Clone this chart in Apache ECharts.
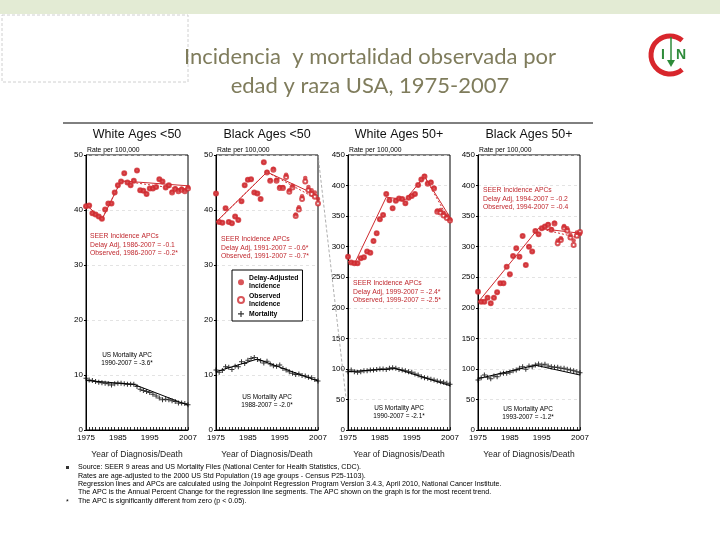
<!DOCTYPE html>
<html>
<head>
<meta charset="utf-8">
<script src="https://cdn.jsdelivr.net/npm/echarts@6/dist/echarts.min.js"></script>
<style>html,body{margin:0;padding:0;background:#fff}#c{width:720px;height:540px}</style>
</head>
<body>
<div id="c"></div>
<script>
// ---------- DATA ----------
const years = [1975,1976,1977,1978,1979,1980,1981,1982,1983,1984,1985,1986,1987,1988,1989,1990,1991,1992,1993,1994,1995,1996,1997,1998,1999,2000,2001,2002,2003,2004,2005,2006,2007];
const xTickLabels = [1975,1985,1995,2007];
const panelTitles = ['White Ages <50','Black Ages <50','White Ages 50+','Black Ages 50+'];

// White Ages <50
const w50DelayAdj = [40.7,40.8,39.4,39.2,38.8,38.4,40.1,41.2,41.2,43.2,44.5,45.2,46.7,45.0,44.5,45.3,47.2,43.6,43.5,42.9,43.9,43.9,44.2,45.6,45.2,44.1,44.5,43.3,43.9,43.6,43.9,43.6,44.2];
const w50Observed = [40.7,40.8,39.4,39.2,38.8,38.4,40.1,41.2,41.2,43.2,44.5,45.2,46.7,45.0,44.5,45.3,47.2,43.6,43.5,42.9,43.9,43.9,44.2,45.6,45.2,44.1,44.5,43.2,43.8,43.4,43.7,43.4,43.9];
const w50Mortality = [9.4,9.1,9.0,8.8,8.7,8.6,8.5,8.4,8.2,8.4,8.5,8.5,8.4,8.3,8.3,8.3,7.9,7.4,7.2,7.0,6.8,6.5,6.2,5.8,5.5,5.6,5.5,5.3,5.2,4.9,4.9,4.8,4.6];
const w50DelayFitYears = [1975,1980,1986,2007], w50DelayFit = [41.0,38.3,45.3,44.4];
const w50ObsFitYears = [1975,1980,1986,2007], w50ObsFit = [41.0,38.3,45.3,43.6];
const w50MortFitYears = [1975,1990,2007], w50MortFit = [9.0,8.3,4.5];

// Black Ages <50
const b50DelayAdj = [43.0,37.8,37.7,40.3,37.8,37.6,38.8,38.2,41.6,44.5,45.5,45.6,43.2,43.0,42.0,48.7,46.9,45.4,47.5,45.5,44.2,44.2,46.4,43.6,44.4,39.2,40.5,42.5,45.8,44.2,43.6,43.2,42.0];
const b50Observed = [43.0,37.8,37.7,40.3,37.8,37.6,38.8,38.2,41.6,44.5,45.5,45.6,43.2,43.0,42.0,48.7,46.8,45.3,47.3,45.3,44.0,44.0,46.0,43.3,44.1,38.9,40.1,42.0,45.2,43.6,42.9,42.4,41.2];
const b50Mortality = [10.9,10.5,10.8,11.5,11.4,11.0,11.6,11.5,12.4,12.1,12.7,13.0,13.2,12.8,12.6,12.2,12.5,12.0,11.7,11.6,11.8,11.2,10.9,10.6,10.3,10.1,10.2,9.9,9.8,9.6,9.5,9.2,8.9];
const b50DelayFitYears = [1975,1991,2007], b50DelayFit = [37.8,46.9,42.6];
const b50ObsFitYears = [1975,1991,2007], b50ObsFit = [37.8,46.9,41.9];
const b50MortFitYears = [1975,1988,2007], b50MortFit = [10.6,12.9,8.9];

// White Ages 50+
const wp50DelayAdj = [283.7,273.9,272.8,272.8,281.0,282.6,291.9,290.2,309.3,321.9,345.0,352.0,386.0,376.0,363.0,375.0,379.0,378.0,371.0,380.0,383.0,386.0,401.0,410.0,415.7,403.7,406.0,396.6,359.0,360.0,355.7,351.0,344.8];
const wp50Observed = [283.7,273.9,272.8,272.8,281.0,282.6,291.9,290.2,309.3,321.9,345.0,352.0,386.0,376.0,363.0,375.0,379.0,378.0,371.0,380.0,383.0,386.0,401.0,410.0,415.0,403.0,405.0,395.0,357.0,356.0,351.0,347.0,343.0];
const wp50Mortality = [95.5,98.0,95.5,94.4,95.5,97.0,97.0,98.0,98.0,99.0,99.8,99.8,99.0,101.0,102.0,101.0,99.0,98.0,97.0,95.5,94.4,91.6,90.0,87.3,85.6,84.5,83.0,81.8,80.2,79.1,78.0,76.4,74.7];
const wp50DelayFitYears = [1975,1977,1987,1993,1999,2007], wp50DelayFit = [276,272,381,377,415,348];
const wp50ObsFitYears = [1999,2007], wp50ObsFit = [415,341];
const wp50MortFitYears = [1975,1990,2007], wp50MortFit = [95.5,100.5,72.5];

// Black Ages 50+
const bp50DelayAdj = [226.4,210.0,210.0,216.6,207.3,216.6,225.3,240.0,240.0,267.3,254.8,284.8,297.3,283.7,317.5,270.0,300.0,291.9,325.7,320.2,330.0,332.8,336.6,328.4,339.3,310.0,313.7,334.0,330.0,319.0,310.0,323.0,320.8];
const bp50Observed = [226.4,210.0,210.0,216.6,207.3,216.6,225.3,240.0,240.0,267.3,254.8,284.8,297.3,283.7,317.5,270.0,300.0,291.9,325.7,320.2,330.0,332.8,336.0,327.5,338.0,305.5,311.0,331.0,326.0,315.0,302.7,318.0,324.0];
const bp50Mortality = [81.8,85.6,90.0,86.2,84.0,88.4,87.3,91.6,92.7,92.7,94.4,97.1,98.2,100.9,103.7,99.3,104.7,103.7,106.4,108.0,106.4,107.5,104.7,103.7,102.6,102.6,100.9,100.9,99.3,98.2,97.1,95.5,93.8];
const bp50DelayFitYears = [1975,1994,2007], bp50DelayFit = [209,330,322];
const bp50ObsFitYears = [1994,2007], bp50ObsFit = [330,314];
const bp50MortFitYears = [1975,1993,2007], bp50MortFit = [84,106,90];

const seerTexts = [
  ['SEER Incidence APCs','Delay Adj, 1986-2007 = -0.1','Observed, 1986-2007 = -0.2*'],
  ['SEER Incidence APCs','Delay Adj, 1991-2007 = -0.6*','Observed, 1991-2007 = -0.7*'],
  ['SEER Incidence APCs','Delay Adj, 1999-2007 = -2.4*','Observed, 1999-2007 = -2.5*'],
  ['SEER Incidence APCs','Delay Adj, 1994-2007 = -0.2','Observed, 1994-2007 = -0.4']
];
const mortTexts = [
  ['US Mortality APC','1990-2007 = -3.6*'],
  ['US Mortality APC','1988-2007 = -2.0*'],
  ['US Mortality APC','1990-2007 = -2.1*'],
  ['US Mortality APC','1993-2007 = -1.2*']
];
const footnotes = [
  'Source: SEER 9 areas and US Mortality Files (National Center for Health Statistics, CDC).',
  'Rates are age-adjusted to the 2000 US Std Population (19 age groups - Census P25-1103).',
  'Regression lines and APCs are calculated using the Joinpoint Regression Program Version 3.4.3, April 2010, National Cancer Institute.',
  'The APC is the Annual Percent Change for the regression line segments. The APC shown on the graph is for the most recent trend.',
  'The APC is significantly different from zero (p < 0.05).'
];

// ---------- LAYOUT / STYLE ----------
const RED = '#cf2a2f';
const TXTRED = '#c0282e';
const FONT = '"Liberation Sans", Arial, sans-serif';
const PLUS = 'path://M4,0h2v4h4v2h-4v4h-2v-4h-4v-2h4z';
const panelLefts = [86, 216, 348, 478];
const panelW = 102, panelTop = 155, panelH = 275;
const yMax = [50,50,450,450], yInt = [10,10,50,50];

const panels = [
  {d:w50DelayAdj,o:w50Observed,m:w50Mortality,df:[w50DelayFitYears,w50DelayFit],of:[w50ObsFitYears,w50ObsFit],mf:[w50MortFitYears,w50MortFit]},
  {d:b50DelayAdj,o:b50Observed,m:b50Mortality,df:[b50DelayFitYears,b50DelayFit],of:[b50ObsFitYears,b50ObsFit],mf:[b50MortFitYears,b50MortFit]},
  {d:wp50DelayAdj,o:wp50Observed,m:wp50Mortality,df:[wp50DelayFitYears,wp50DelayFit],of:[wp50ObsFitYears,wp50ObsFit],mf:[wp50MortFitYears,wp50MortFit]},
  {d:bp50DelayAdj,o:bp50Observed,m:bp50Mortality,df:[bp50DelayFitYears,bp50DelayFit],of:[bp50ObsFitYears,bp50ObsFit],mf:[bp50MortFitYears,bp50MortFit]}
];
const pairs = (xs, ys) => xs.map((x,i)=>[x, ys[i]]);

const grid = [], xAxis = [], yAxis = [], series = [], graphic = [];
panels.forEach((p, k) => {
  grid.push({left: panelLefts[k], top: panelTop, width: panelW, height: panelH, show: true, borderColor: '#000', borderWidth: 1, backgroundColor: 'transparent'});
  xAxis.push({
    type: 'value', gridIndex: k, min: 1975, max: 2007,
    axisLine: {show: true, lineStyle: {color: '#000', width: 1}},
    axisTick: {show: true, inside: true, length: 3, customValues: years, lineStyle: {color: '#000', width: 0.8}},
    axisLabel: {customValues: xTickLabels, formatter: v => String(v), fontSize: 8, color: '#000', fontFamily: FONT, margin: 4},
    splitLine: {show: false},
    name: 'Year of Diagnosis/Death', nameLocation: 'middle', nameGap: 20,
    nameTextStyle: {fontSize: 8.5, color: '#222', fontFamily: FONT}
  });
  yAxis.push({
    type: 'value', gridIndex: k, min: 0, max: yMax[k], interval: yInt[k],
    axisLine: {show: true, lineStyle: {color: '#000', width: 1}},
    axisTick: {show: true, length: 2, lineStyle: {color: '#000'}},
    axisLabel: {fontSize: 8, color: '#000', fontFamily: FONT, margin: 3},
    splitLine: {show: true, lineStyle: {color: '#dcdcdc', type: [3,3], width: 0.8}}
  });
  series.push({name: 'Observed\nIncidence', type: 'scatter', xAxisIndex: k, yAxisIndex: k, data: pairs(years, p.o),
    symbol: 'emptyCircle', symbolSize: 4, itemStyle: {color: RED, borderColor: RED, borderWidth: 0.8}, z: 3});
  series.push({name: 'Delay-Adjusted\nIncidence', type: 'scatter', xAxisIndex: k, yAxisIndex: k, data: pairs(years, p.d),
    symbol: 'circle', symbolSize: 4.5, itemStyle: {color: RED}, z: 4});
  series.push({name: 'dfit', type: 'line', xAxisIndex: k, yAxisIndex: k, data: pairs(p.df[0], p.df[1]),
    showSymbol: false, lineStyle: {color: RED, width: 1}, silent: true, z: 2});
  series.push({name: 'ofit', type: 'line', xAxisIndex: k, yAxisIndex: k, data: pairs(p.of[0], p.of[1]),
    showSymbol: false, lineStyle: {color: RED, width: 1, type: [2,2]}, silent: true, z: 2});
  series.push({name: 'mfit', type: 'line', xAxisIndex: k, yAxisIndex: k, data: pairs(p.mf[0], p.mf[1]),
    showSymbol: false, lineStyle: {color: '#000', width: 1}, silent: true, z: 2});
  series.push({name: 'Mortality', type: 'scatter', xAxisIndex: k, yAxisIndex: k, data: pairs(years, p.m),
    symbol: PLUS, symbolSize: 5, itemStyle: {color: '#000'}, z: 4});

  // panel title
  graphic.push({type: 'text', x: panelLefts[k] + panelW/2, y: 128, z: 10,
    style: {text: panelTitles[k], fontSize: 12.5, fontFamily: FONT, fill: '#111', textAlign: 'center'}});
  graphic.push({type: 'text', x: panelLefts[k] + 1, y: 147, z: 10,
    style: {text: 'Rate per 100,000', fontSize: 6.8, fontFamily: FONT, fill: '#000'}});
});

// SEER annotation blocks
const seerPos = [[90, 232], [221, 235], [353, 279], [483, 186]];
seerPos.forEach((pos, k) => {
  graphic.push({type: 'text', x: pos[0], y: pos[1], z: 10,
    style: {text: seerTexts[k].join('\n'), fontSize: 6.8, lineHeight: 8.5, fontFamily: FONT, fill: TXTRED}});
});
const mortPos = [[127, 351], [267, 393], [399, 404], [528, 405]];
mortPos.forEach((pos, k) => {
  graphic.push({type: 'text', x: pos[0], y: pos[1], z: 10,
    style: {text: mortTexts[k].join('\n'), fontSize: 6.4, lineHeight: 8, fontFamily: FONT, fill: '#000', textAlign: 'center'}});
});

// Slide decorations
graphic.push({type: 'rect', shape: {x: 0, y: 0, width: 720, height: 14}, style: {fill: '#e3ebd4'}, z: 0});
graphic.push({type: 'rect', shape: {x: 2, y: 15, width: 186, height: 67}, style: {fill: 'none', stroke: '#d0d0d0', lineWidth: 1, lineDash: [3,2]}, z: 0});
graphic.push({type: 'text', x: 370, y: 42, z: 10,
  style: {text: 'Incidencia  y mortalidad observada por\nedad y raza USA, 1975-2007', fontSize: 22, lineHeight: 29, fontFamily: 'Lato, "Open Sans", sans-serif', fill: '#7f7c5c', textAlign: 'center'}});
graphic.push({type: 'line', shape: {x1: 63, y1: 123, x2: 593, y2: 123}, style: {stroke: '#000', lineWidth: 1}, z: 5});
graphic.push({type: 'line', shape: {x1: 318, y1: 155, x2: 346, y2: 398}, style: {stroke: '#9a9a9a', lineWidth: 0.8, lineDash: [3,2]}, z: 5});
// logo
graphic.push({type: 'arc', shape: {cx: 670, cy: 55, r: 19, startAngle: Math.PI*0.28, endAngle: Math.PI*1.72, clockwise: true}, style: {stroke: '#d8262c', lineWidth: 5, fill: 'none'}, z: 5});
graphic.push({type: 'text', x: 663, y: 55, style: {text: 'I', fontSize: 14, fontWeight: 'bold', fontFamily: FONT, fill: '#2e8b3a', textAlign: 'center', textVerticalAlign: 'middle'}, z: 6});
graphic.push({type: 'text', x: 681, y: 55, style: {text: 'N', fontSize: 14, fontWeight: 'bold', fontFamily: FONT, fill: '#2e8b3a', textAlign: 'center', textVerticalAlign: 'middle'}, z: 6});
graphic.push({type: 'line', shape: {x1: 671, y1: 37, x2: 671, y2: 63}, style: {stroke: '#2e8b3a', lineWidth: 1.5}, z: 6});
graphic.push({type: 'polygon', shape: {points: [[667, 60], [675, 60], [671, 67]]}, style: {fill: '#2e8b3a'}, z: 6});

// footnotes
graphic.push({type: 'rect', shape: {x: 66, y: 466, width: 3, height: 3}, style: {fill: '#333'}, z: 10});
graphic.push({type: 'text', x: 66, y: 499, style: {text: '*', fontSize: 7, fontFamily: FONT, fill: '#000'}, z: 10});
const fnTops = [464, 473, 481, 489, 498];
footnotes.forEach((t, i) => {
  graphic.push({type: 'text', x: 78, y: fnTops[i], z: 10,
    style: {text: t, fontSize: 7.1, fontFamily: FONT, fill: '#000'}});
});

const legend = {
  show: true, orient: 'vertical', left: 232, top: 270,
  data: [
    {name: 'Delay-Adjusted\nIncidence', icon: 'circle'},
    {name: 'Observed\nIncidence', icon: 'emptyCircle'},
    {name: 'Mortality', icon: PLUS}
  ],
  itemWidth: 6, itemHeight: 6, itemGap: 1.5,
  padding: [4, 4, 3, 5],
  borderColor: '#000', borderWidth: 1, backgroundColor: '#fff',
  textStyle: {fontSize: 6.8, fontWeight: 'bold', fontFamily: FONT, color: '#000', lineHeight: 8.2},
  selectedMode: false
};

const chart = echarts.init(document.getElementById('c'), null, {renderer: 'canvas'});
chart.setOption({
  animation: false,
  backgroundColor: '#fff',
  grid, xAxis, yAxis, series, graphic, legend
});
</script>
</body>
</html>
